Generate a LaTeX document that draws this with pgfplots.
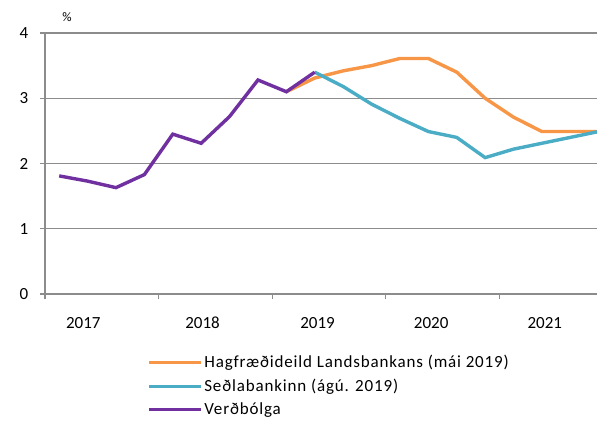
\documentclass[border=0pt]{standalone}
\usepackage{pgfplots}
\pgfplotsset{compat=1.18}
\usepackage{fontspec}
\setmainfont{Carlito}
\newfontfamily\legendfont[LetterSpace=5]{Carlito}

\definecolor{lbOrange}{HTML}{F79646}
\definecolor{lbBlue}{HTML}{4BACC6}
\definecolor{lbPurple}{HTML}{7030A0}
\definecolor{gridGray}{HTML}{8C8C8C}

% quarters, plotted at quarter centres (index + 0.5)
\pgfplotstableread{
x     y
0.5   1.81
1.5   1.73
2.5   1.63
3.5   1.83
4.5   2.45
5.5   2.31
6.5   2.72
7.5   3.28
8.5   3.10
9.5   3.40
}\verdbolga

\pgfplotstableread{
x     y
8.5   3.10
9.5   3.31
10.5  3.42
11.5  3.50
12.5  3.61
13.5  3.61
14.5  3.40
15.5  3.00
16.5  2.71
17.5  2.49
18.5  2.49
19.5  2.49
}\landsbankinn

\pgfplotstableread{
x     y
9.5   3.40
10.5  3.18
11.5  2.91
12.5  2.69
13.5  2.49
14.5  2.40
15.5  2.09
16.5  2.22
17.5  2.31
18.5  2.40
19.5  2.49
}\sedlabankinn

\begin{document}
\fontsize{17}{20}\selectfont
\begin{tikzpicture}
\useasboundingbox (-45pt,-127pt) rectangle (552pt,294pt);
\begin{axis}[
  name=main,
  at={(0,0)}, anchor=south west,
  scale only axis,
  width=552pt, height=261pt,
  xmin=0, xmax=19.44,
  ymin=0, ymax=4,
  axis lines=left,
  axis line style={gridGray, line width=1.2pt, -},
  every tick/.style={gridGray, line width=1.2pt},
  tick align=outside,
  major tick length=5pt,
  xtick={0,4,8,12,16},
  xticklabels={},
  extra x ticks={1.35,5.55,9.6,13.6,17.6},
  extra x tick labels={2017,2018,2019,2020,2021},
  extra x tick style={major tick length=0pt, grid=none},
  ytick={0,1,2,3,4},
  ymajorgrids,
  grid style={gridGray, line width=1.2pt},
  /pgf/number format/assume math mode=true,
  /pgf/number format/1000 sep={},
  yticklabel style={xshift=-6pt},
  xticklabel style={text height=12pt, text depth=0pt, yshift=-17pt},
  legend cell align=left,
  legend style={at={(0.185,-0.227)}, anchor=north west, draw=none, fill=none,
    inner sep=0pt, row sep=4.5pt, font=\fontsize{17}{20}\legendfont},
  legend image code/.code={\draw[#1, line width=3pt] (0pt,0pt) -- (52pt,0pt);},
]
\addplot[lbOrange, line width=3.4pt] table {\landsbankinn};
\addlegendentry{Hagfræðideild Landsbankans (mái 2019)}
\addplot[lbBlue, line width=3.4pt] table {\sedlabankinn};
\addlegendentry{Seðlabankinn (ágú. 2019)}
\addplot[lbPurple, line width=3.4pt] table {\verdbolga};
\addlegendentry{Verðbólga}
\end{axis}
\node[font=\fontsize{13}{15}\selectfont] at (22pt,277pt) {\%};
\end{tikzpicture}
\end{document}
